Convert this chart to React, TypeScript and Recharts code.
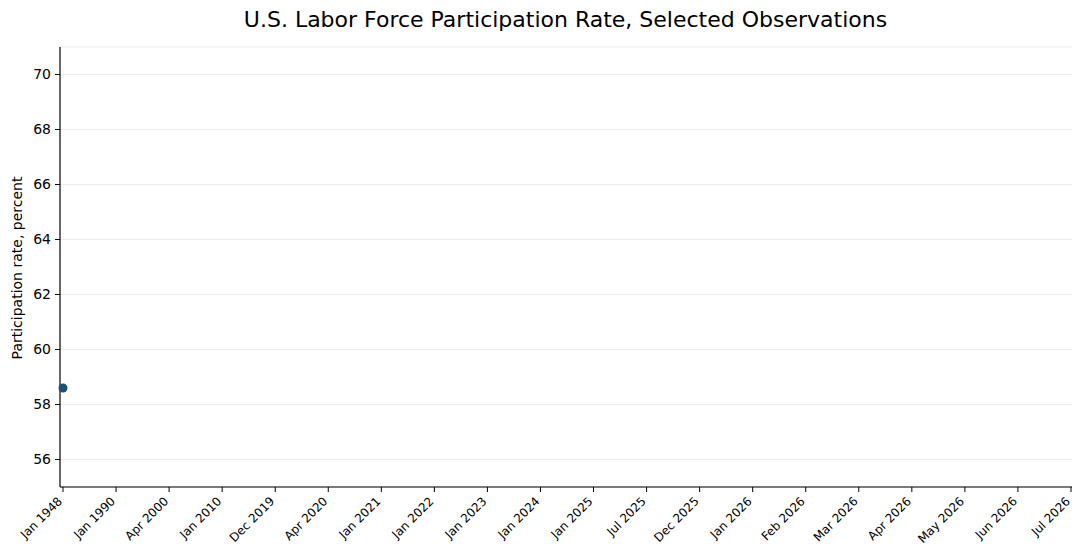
import React from "react";
import { LineChart, Line, XAxis, YAxis, CartesianGrid } from "recharts";

const categories = [
  "Jan 1948", "Jan 1990", "Apr 2000", "Jan 2010", "Dec 2019", "Apr 2020",
  "Jan 2021", "Jan 2022", "Jan 2023", "Jan 2024", "Jan 2025", "Jul 2025",
  "Dec 2025", "Jan 2026", "Feb 2026", "Mar 2026", "Apr 2026", "May 2026",
  "Jun 2026", "Jul 2026",
];
const participation: (number | null)[] = [
  58.6, null, null, null, null, null, null, null, null, null, null, null,
  null, null, null, null, null, null, null, null,
];
const yTicks = [56, 58, 60, 62, 64, 66, 68, 70];

const data = categories.map((c, i) => ({ date: c, rate: participation[i] }));

const FONT = "'DejaVu Sans', sans-serif";

const XTick = (props: any) => {
  const { x, y, payload } = props;
  return (
    <g transform={`translate(${x},${y})`}>
      <text
        x={-3}
        y={5}
        dy="0.35em"
        textAnchor="end"
        transform="rotate(-45, -3, 5)"
        fontSize={12}
        fontFamily={FONT}
        fill="#000"
      >
        {payload.value}
      </text>
    </g>
  );
};

export default function App() {
  return (
    <div style={{ position: "absolute", left: 0, top: 0, width: 1081, height: 557, background: "#fff" }}>
      <div
        style={{
          position: "absolute",
          left: 0,
          top: 7,
          width: 1131,
          textAlign: "center",
          fontFamily: FONT,
          fontSize: 22,
          color: "#000",
          whiteSpace: "nowrap",
        }}
      >
        U.S. Labor Force Participation Rate, Selected Observations
      </div>
      <div
        style={{
          position: "absolute",
          left: 17,
          top: 268,
          transform: "translate(-50%, -50%) rotate(-90deg)",
          fontFamily: FONT,
          fontSize: 14,
          color: "#000",
          whiteSpace: "nowrap",
        }}
      >
        Participation rate, percent
      </div>
      <LineChart
        width={1081}
        height={557}
        data={data}
        margin={{ top: 47, right: 9, bottom: 0, left: 0 }}
      >
        <CartesianGrid horizontal vertical={false} stroke="#ebebeb" strokeWidth={1} />
        <XAxis
          dataKey="date"
          height={70}
          padding={{ left: 3, right: 1 }}
          interval={0}
          tickSize={5}
          tickMargin={2}
          tick={<XTick />}
          axisLine={{ stroke: "#000", strokeWidth: 1.2 }}
          tickLine={{ stroke: "#000" }}
        />
        <YAxis
          width={60}
          domain={[55, 71]}
          ticks={yTicks}
          type="number"
          allowDataOverflow
          tickSize={5}
          tickMargin={4}
          tick={{ fontSize: 14, fontFamily: FONT, fill: "#000" }}
          axisLine={{ stroke: "#000", strokeWidth: 1.2 }}
          tickLine={{ stroke: "#000" }}
        />
        <Line
          dataKey="rate"
          stroke="#1f4e79"
          strokeWidth={2}
          dot={{ r: 4.5, fill: "#1f4e79", stroke: "none" }}
          activeDot={false}
          isAnimationActive={false}
        />
      </LineChart>
    </div>
  );
}
